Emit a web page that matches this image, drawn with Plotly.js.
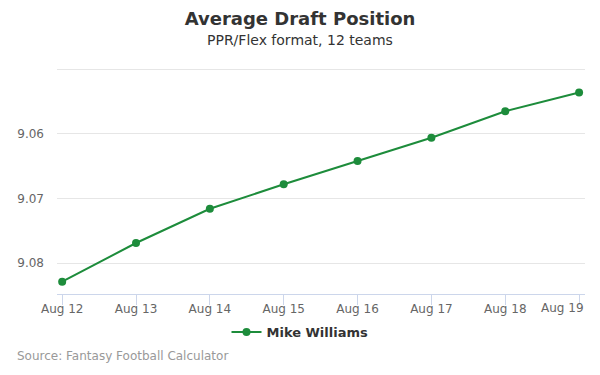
<!DOCTYPE html>
<html>
<head>
<meta charset="utf-8">
<script src="https://cdn.plot.ly/plotly-3.0.1.min.js"></script>
<style>html,body{margin:0;padding:0;background:#fff;}#chart{width:600px;height:375px;}</style>
</head>
<body>
<div id="chart"></div>
<script>
const dates = ["Aug 12", "Aug 13", "Aug 14", "Aug 15", "Aug 16", "Aug 17", "Aug 18", "Aug 19"];
const adp = [9.0829, 9.0769, 9.0716, 9.0678, 9.0642, 9.0606, 9.0565, 9.0536];
const yTicks = [9.05, 9.06, 9.07, 9.08];
const yTickText = ["", "9.06", "9.07", "9.08"];
const seriesName = "Mike Williams";

const xIdx = dates.map((d, i) => i);
const lastI = dates.length - 1;
// last label is pulled inside the chart (as in the reference) via an annotation
const xTickText = dates.map((d, i) => i === lastI ? "" : d);
const font = "DejaVu Sans, sans-serif";
const green = "#1d8c3b";
const plotH = 375 - 68 - 81;

Plotly.newPlot("chart", [{
  x: xIdx, y: adp, type: "scatter", mode: "lines+markers", name: "<b>" + seriesName + "</b>",
  line: {color: green, width: 2},
  marker: {color: green, size: 8}
}], {
  width: 600, height: 375,
  margin: {l: 57, r: 15, t: 68, b: 81, autoexpand: false},
  paper_bgcolor: "#fff", plot_bgcolor: "#fff",
  font: {family: font},
  title: {text: "<b>Average Draft Position</b>", x: 0.5, xanchor: "center", y: 1 - 19 / 375, yanchor: "middle", font: {size: 18, color: "#333", family: font}},
  annotations: [
    {text: "PPR/Flex format, 12 teams", xref: "paper", yref: "paper", x: (300 - 57) / 528, xanchor: "center", y: 1 + (68 - 40) / plotH, yanchor: "middle", showarrow: false, font: {size: 14, color: "#333", family: font}},
    {text: "Source: Fantasy Football Calculator", xref: "paper", yref: "paper", x: -42 / 528, xanchor: "left", y: (294 - 356) / plotH, yanchor: "middle", showarrow: false, font: {size: 12, color: "#999", family: font}},
    {text: dates[lastI], xref: "x", yref: "paper", x: xIdx[lastI], xanchor: "right", xshift: 7, y: (294 - 308) / plotH, yanchor: "middle", showarrow: false, font: {size: 12, color: "#666", family: font}}
  ],
  xaxis: {
    range: [-0.07, 7.08], tickvals: xIdx, ticktext: xTickText, tickangle: 0,
    showgrid: false, zeroline: false, automargin: false,
    showline: true, linecolor: "#ccd6eb", linewidth: 1,
    ticks: "outside", ticklen: 10, tickcolor: "#ccd6eb",
    ticklabelstandoff: -6,
    tickfont: {size: 12, color: "#666", family: font}, fixedrange: true
  },
  yaxis: {
    range: [9.0848, 9.0498], tickvals: yTicks, ticktext: yTickText,
    showgrid: true, gridcolor: "#e6e6e6", gridwidth: 1, zeroline: false,
    showline: false, ticks: "", ticklabelstandoff: 12, automargin: false,
    tickfont: {size: 12, color: "#666", family: font}, fixedrange: true
  },
  showlegend: true,
  legend: {orientation: "h", x: (300 - 57) / 528, xanchor: "center", y: (294 - 332) / plotH, yanchor: "middle",
    font: {size: 13, color: "#333", family: font}},
}, {displayModeBar: false, staticPlot: true});
</script>
</body>
</html>
